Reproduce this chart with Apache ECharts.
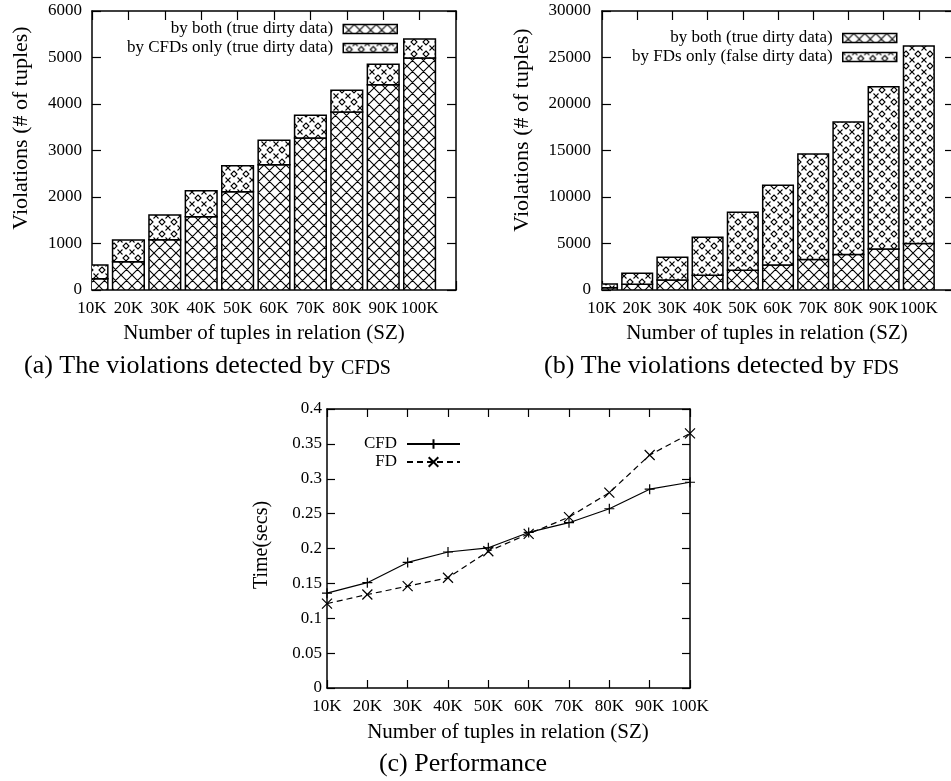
<!DOCTYPE html>
<html><head><meta charset="utf-8">
<script src="https://cdn.jsdelivr.net/npm/echarts@6/dist/echarts.min.js"></script>
<style>html,body{margin:0;padding:0;background:#fff}#c{width:951px;height:781px}</style>
</head><body><div id="c"></div>
<script>
// ---- data ----
const categories = ['10K','20K','30K','40K','50K','60K','70K','80K','90K','100K'];
const bothA    = [244, 609, 1082, 1577, 2115, 2695, 3269, 3828, 4416, 4989];
const cfdOnlyA = [294, 466, 531, 559, 559, 524, 487, 466, 437, 409];
const bothB    = [244, 609, 1082, 1577, 2115, 2695, 3269, 3828, 4416, 4989];
const fdOnlyB  = [410, 1180, 2430, 4090, 6240, 8560, 11360, 14240, 17450, 21250];
const cfdTime  = [0.136, 0.151, 0.180, 0.195, 0.201, 0.223, 0.237, 0.257, 0.285, 0.295];
const fdTime   = [0.121, 0.134, 0.146, 0.158, 0.196, 0.221, 0.245, 0.280, 0.334, 0.365];
const yTicksA = {min:0, max:6000, interval:1000};
const yTicksB = {min:0, max:30000, interval:5000};
const yTicksC = {min:0, max:0.4, interval:0.05};

const NAME_BOTH = 'by both (true dirty data)';
const NAME_CFD = 'by CFDs only (true dirty data)';
const NAME_FD = 'by FDs only (false dirty data)';

// ---- patterns ----
function makeTile(size, draw){
  const c = document.createElement('canvas'); c.width = size; c.height = size;
  const g = c.getContext('2d'); g.fillStyle = '#fff'; g.fillRect(0,0,size,size);
  g.strokeStyle = '#000'; g.lineWidth = 1.1; draw(g, size); return c;
}
const crossTile = makeTile(11, (g,s)=>{
  g.beginPath();
  for (const d of [-s,0,s]) { g.moveTo(d-1,-1); g.lineTo(d+s+1,s+1); g.moveTo(d+s+1,-1); g.lineTo(d-1,s+1); }
  g.stroke();
});
const dotTile = makeTile(12, (g,s)=>{
  g.beginPath();
  g.moveTo(6,3); g.lineTo(9,6); g.lineTo(6,9); g.lineTo(3,6); g.closePath();
  for (const [cx,cy] of [[0,0],[12,0],[0,12],[12,12]]) {
    g.moveTo(cx-2.5,cy-2.5); g.lineTo(cx+2.5,cy+2.5); g.moveTo(cx+2.5,cy-2.5); g.lineTo(cx-2.5,cy+2.5);
  }
  g.stroke();
});
const crossPat = {image: crossTile, repeat: 'repeat'};
const dotPat = {image: dotTile, repeat: 'repeat'};

const FONT = 'Liberation Serif';
const lbl = {color:'#000', fontFamily: FONT, fontSize: 17};
const axisLine = {show:true, onZero:false, lineStyle:{color:'#000', width:1.5}};
const tick = (len)=>({show:true, inside:true, length:len, lineStyle:{color:'#000', width:1.2}});

function barX(gi, pos) {
  return {type:'value', gridIndex:gi, position:pos, min:0, max:10, interval:1,
    axisLine, axisTick: tick(9), splitLine:{show:false},
    axisLabel: pos==='bottom' ? {...lbl, margin:10, showMinLabel:true, showMaxLabel:true, formatter:(v)=>categories[v]||''} : {show:false}};
}
function valY(gi, pos, t, len, margin) {
  return {type:'value', gridIndex:gi, position:pos, min:t.min, max:t.max, interval:t.interval,
    axisLine, axisTick: tick(len), splitLine:{show:false},
    axisLabel: pos==='left' ? {...lbl, margin:margin, showMinLabel:true, showMaxLabel:true, formatter:(v)=>String(+v.toFixed(4))} : {show:false}};
}
function catX(gi, pos) {
  return {type:'category', gridIndex:gi, position:pos, data:categories, boundaryGap:false,
    axisLine, axisTick:{...tick(8), alignWithLabel:true}, splitLine:{show:false},
    axisLabel: pos==='bottom' ? {...lbl, margin:10, interval:0} : {show:false}};
}

// stacked bars drawn through the axes' scales (custom series clipped to the plot area)
function bars(name, base, vals, xi, yi, pat) {
  return {type:'custom', name, xAxisIndex:xi, yAxisIndex:yi, clip:true,
    data: vals.map((v,i)=>{ const b = base ? base[i] : 0; return [i, b, b + v]; }),
    encode:{x:0, y:[1,2]},
    renderItem:(params, api)=>{
      const i = api.value(0);
      const p0 = api.coord([i - 0.435, api.value(1)]);
      const p1 = api.coord([i + 0.435, api.value(2)]);
      return {type:'rect', shape:{x:p0[0], y:p1[1], width:p1[0]-p0[0], height:p0[1]-p1[1]},
        style:{fill:pat, stroke:'#000', lineWidth:1.5}};
    }};
}
const plusPath = 'path://M5,0L5,10M0,5L10,5';
const crossPath = 'path://M0,0L10,10M10,0L0,10';
function line(name, data, sym, dash) {
  return {type:'line', name, data, xAxisIndex:4, yAxisIndex:4, symbol:sym, symbolSize:10,
    showSymbol:true, showAllSymbol:true, clip:false,
    lineStyle:{color:'#000', width:1.2, type: dash ? [6,4] : 'solid'},
    itemStyle:{color:'rgba(0,0,0,0)', borderColor:'#000', borderWidth:1.2}};
}
function leg(item, right, top, w, h) {
  return {data:[item], orient:'vertical', align:'right', right, top, itemWidth:w, itemHeight:h,
    padding:0, selectedMode:false, textStyle:{...lbl, padding:[0,5,0,0]}};
}
const barLeg = (name, pat)=>({name, icon:'rect', itemStyle:{color:pat, borderColor:'#000', borderWidth:1.5}});
function txt(text, x, y, size, opts) {
  return Object.assign({type:'text', x, y, style:{text, fontFamily:FONT, fontSize:size, fill:'#000', align:'center', verticalAlign:'middle'}}, opts||{});
}
function caption(text, x, y) {
  return {type:'text', x, y, style:{text, fontFamily:FONT, fontSize:26, fill:'#000', align:'left', verticalAlign:'middle',
    rich:{sc:{fontFamily:FONT, fontSize:20, fill:'#000', verticalAlign:'bottom'}}}};
}

const chart = echarts.init(document.getElementById('c'));
chart.setOption({
  animation:false,
  backgroundColor:'#fff',
  grid:[
    {left:92, right:495, top:11, bottom:491, outerBoundsMode:'none'},
    {left:602, right:-3, top:11, bottom:491, outerBoundsMode:'none'},
    {left:327, right:261, top:409, bottom:93, outerBoundsMode:'none'}
  ],
  xAxis:[barX(0,'bottom'), barX(0,'top'), barX(1,'bottom'), barX(1,'top'), catX(2,'bottom'), catX(2,'top')],
  yAxis:[valY(0,'left',yTicksA,9,10), valY(0,'right',yTicksA,9,10), valY(1,'left',yTicksB,9,11), valY(1,'right',yTicksB,9,11),
         valY(2,'left',yTicksC,8,5), valY(2,'right',yTicksC,8,5)],
  legend:[
    leg(barLeg(NAME_BOTH, crossPat), 553, 20.5, 54, 9),
    leg(barLeg(NAME_CFD, dotPat), 553, 39.5, 54, 9),
    leg(barLeg(NAME_BOTH, crossPat), 53.5, 29.5, 54, 9),
    leg(barLeg(NAME_FD, dotPat), 53.5, 48.5, 54, 9),
    leg('CFD', 490, 435.5, 53, 12),
    leg('FD', 490, 453.5, 53, 12)
  ],
  series:[
    bars(NAME_BOTH, null, bothA, 0, 0, crossPat),
    bars(NAME_CFD, bothA, cfdOnlyA, 0, 0, dotPat),
    bars(NAME_BOTH, null, bothB, 2, 2, crossPat),
    bars(NAME_FD, bothB, fdOnlyB, 2, 2, dotPat),
    line('CFD', cfdTime, plusPath, false),
    line('FD', fdTime, crossPath, true)
  ],
  graphic:[
    txt('Violations (# of tuples)', 21, 128, 22, {rotation:Math.PI/2}),
    txt('Number of tuples in relation (SZ)', 264, 333, 21),
    txt('Violations (# of tuples)', 522, 130, 22, {rotation:Math.PI/2}),
    txt('Number of tuples in relation (SZ)', 767, 333, 21),
    txt('Time(secs)', 262, 545, 20, {rotation:Math.PI/2}),
    txt('Number of tuples in relation (SZ)', 508, 732, 21),
    caption('(a) The violations detected by {sc|CFDS}', 24, 366),
    caption('(b) The violations detected by {sc|FDS}', 544, 366),
    txt('(c) Performance', 463, 764, 26)
  ]
});
</script></body></html>
